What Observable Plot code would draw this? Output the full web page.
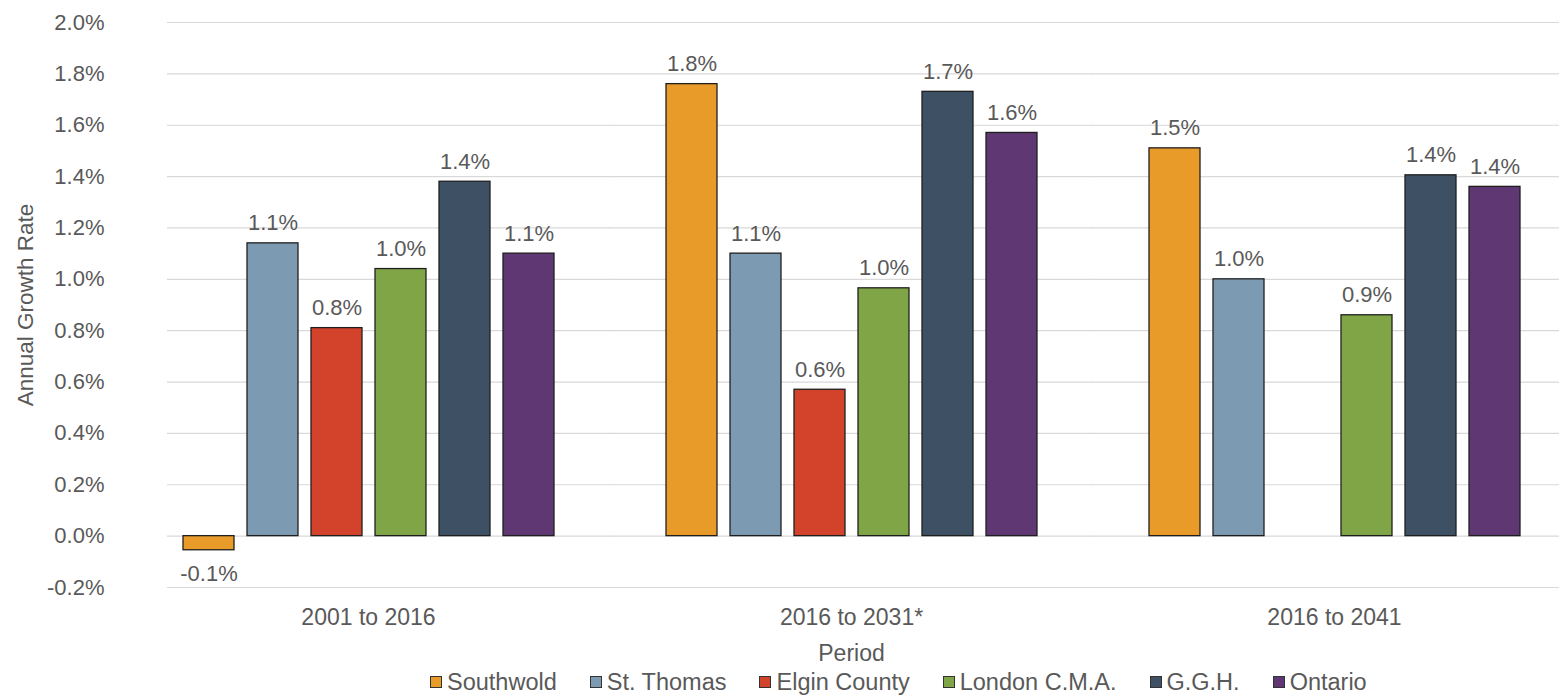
<!DOCTYPE html>
<html>
<head>
<meta charset="utf-8">
<script src="https://cdn.jsdelivr.net/npm/d3@7"></script>
<script src="https://cdn.jsdelivr.net/npm/@observablehq/plot@0.6"></script>
<style>
  html, body { margin: 0; padding: 0; background: #fff; }
  #wrap { position: relative; width: 1568px; height: 695px; font-family: "Liberation Sans", Arial, sans-serif; color: #595959; }
  #legend { position: absolute; left: 430px; top: 668px; display: flex; align-items: center; gap: 33px; font-size: 23.5px; line-height: 28px; white-space: nowrap; }
  #legend .item { display: flex; align-items: center; gap: 5px; }
  #legend .sw { width: 10px; height: 10px; border: 1px solid #333; display: inline-block; }
</style>
</head>
<body>
<div id="wrap"><div id="chart"></div><div id="legend"></div></div>
<script>
// ---- data ----
const periods = ["2001 to 2016", "2016 to 2031*", "2016 to 2041"];
const seriesNames = ["Southwold", "St. Thomas", "Elgin County", "London C.M.A.", "G.G.H.", "Ontario"];
const seriesColors = ["#E99B2A", "#7D9AB3", "#D3432C", "#80A547", "#3D5064", "#5F3772"];
const southwold = [-0.055, 1.76, 1.51];
const stThomas = [1.14, 1.10, 1.00];
const elginCounty = [0.81, 0.57, null];
const londonCMA = [1.04, 0.965, 0.86];
const ggh = [1.38, 1.73, 1.405];
const ontario = [1.10, 1.57, 1.36];
const yTicks = [-0.2, 0, 0.2, 0.4, 0.6, 0.8, 1.0, 1.2, 1.4, 1.6, 1.8, 2.0];
const yLabel = "Annual Growth Rate";
const xLabel = "Period";

const seriesValues = [southwold, stThomas, elginCounty, londonCMA, ggh, ontario];
const rows = periods.flatMap((p, i) =>
  seriesNames.map((s, j) => ({period: p, series: s, value: seriesValues[j][i]}))
).filter(d => d.value != null);

const fmtPct = d => d.toFixed(1) + "%";
const TXT = "#595959";
const GRID = "#D9D9D9";

const chart = Plot.plot({
  width: 1568,
  height: 665,
  marginTop: 22,
  marginBottom: 78,
  marginLeft: 175,
  marginRight: 40,
  style: {fontFamily: "Liberation Sans, Arial, sans-serif", color: TXT, background: "#fff"},
  fx: {domain: periods, paddingInner: 0.2, paddingOuter: 0, label: null},
  x: {domain: seriesNames, paddingInner: 0.21, paddingOuter: 0.105, axis: null},
  y: {domain: [-0.2, 2.0], label: null},
  color: {domain: seriesNames, range: seriesColors},
  marks: [
    Plot.ruleY(yTicks, {fx: () => periods[0], stroke: GRID, strokeWidth: 1.2, insetLeft: -8, insetRight: -49}),
    Plot.ruleY(yTicks, {fx: () => periods[1], stroke: GRID, strokeWidth: 1.2, insetLeft: -49, insetRight: -49}),
    Plot.ruleY(yTicks, {fx: () => periods[2], stroke: GRID, strokeWidth: 1.2, insetLeft: -49, insetRight: -32}),
    Plot.barY(rows, {fx: "period", x: "series", y: "value", fill: "series", stroke: "#1f1f1f", strokeWidth: 1.3}),
    Plot.text(rows.filter(d => d.value >= 0), {fx: "period", x: "series", y: "value", text: d => fmtPct(d.value), lineAnchor: "bottom", dy: -13, fontSize: 22, fill: TXT}),
    Plot.text(rows.filter(d => d.value < 0), {fx: "period", x: "series", y: "value", text: d => fmtPct(d.value), lineAnchor: "top", dy: 15, fontSize: 22, fill: TXT}),
    Plot.axisY({ticks: yTicks, tickFormat: fmtPct, tickSize: 0, tickPadding: 71, fontSize: 22, label: null, fill: TXT}),
    Plot.text([yLabel], {fx: () => periods[0], frameAnchor: "left", text: d => d, rotate: -90, dx: -150, fontSize: 22.5, fill: TXT, textAnchor: "middle", lineAnchor: "middle"}),
    Plot.axisFx({anchor: "bottom", tickSize: 0, tickPadding: 21, fontSize: 23, label: xLabel, labelAnchor: "center", labelOffset: 73, fill: TXT})
  ]
});
document.getElementById("chart").appendChild(chart);

const legend = document.getElementById("legend");
seriesNames.forEach((s, i) => {
  const item = document.createElement("span");
  item.className = "item";
  const sw = document.createElement("span");
  sw.className = "sw";
  sw.style.background = seriesColors[i];
  const t = document.createElement("span");
  t.textContent = s;
  item.appendChild(sw);
  item.appendChild(t);
  legend.appendChild(item);
});
</script>
</body>
</html>
